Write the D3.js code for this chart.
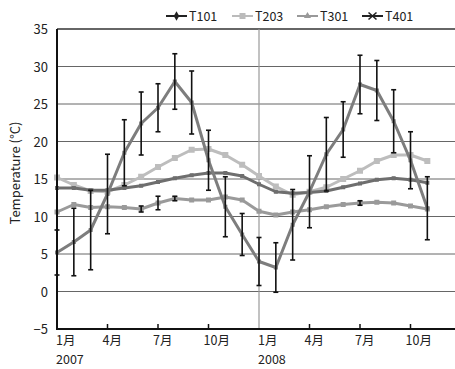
<!DOCTYPE html>
<html>
<head>
<meta charset="utf-8">
<script src="https://cdn.jsdelivr.net/npm/d3@7"></script>
<style>
  body { margin: 0; background: #fff; }
  svg { font-family: "Noto Sans CJK JP", "Noto Sans", sans-serif; }
</style>
</head>
<body>
<svg id="chart" width="455" height="369"></svg>
<script>
// month index 0 = Jan 2007 ... 22 = Nov 2008
var months = d3.range(23);

var seriesNames = ["T101", "T203", "T301", "T401"];

var t101 = [13.8, 13.8, 13.5, 13.5, 13.8, 14.1, 14.6, 15.1, 15.5, 15.8, 15.8, 15.4,
            14.3, 13.3, 13.1, 13.2, 13.4, 13.9, 14.4, 14.9, 15.1, 14.9, 14.5];
var t203 = [15.2, 14.2, 13.4, 13.3, 14.2, 15.3, 16.6, 17.8, 18.9, 19.0, 18.2, 16.9,
            15.4, 14.0, 12.9, 13.3, 13.9, 15.0, 16.1, 17.4, 18.2, 18.2, 17.4];
var t301 = [10.6, 11.6, 11.2, 11.3, 11.2, 11.0, 11.8, 12.4, 12.2, 12.2, 12.6, 12.2,
            10.7, 10.2, 10.6, 10.9, 11.3, 11.6, 11.8, 11.9, 11.8, 11.4, 11.0];
var t401 = [5.2, 6.6, 8.2, 13.0, 18.5, 22.4, 24.5, 28.0, 25.2, 17.5, 11.3, 7.6,
            4.0, 3.2, 8.9, 13.3, 18.3, 21.6, 27.6, 26.8, 22.7, 17.5, 11.1];

var t301Err = [0, 0, 0, 0, 0, 0.4, 0.9, 0.3, 0, 0, 0, 0,
               0, 0, 0, 0, 0, 0, 0.3, 0, 0, 0, 0];
var t401Err = [3.0, 4.5, 5.3, 5.3, 4.4, 4.2, 3.2, 3.7, 4.2, 4.0, 4.0, 2.8,
               3.2, 3.3, 4.7, 4.8, 4.9, 3.7, 3.9, 4.0, 4.2, 3.8, 4.2];

var yTicks = [-5, 0, 5, 10, 15, 20, 25, 30, 35];
var xTicks = [0, 3, 6, 9, 12, 15, 18, 21];
var xTickLabels = ["1月", "4月", "7月", "10月", "1月", "4月", "7月", "10月"];
var yearLabels = ["2007", "2008"];
var yearTicks = [0, 12];

var svg = d3.select("#chart");

var x = d3.scaleLinear().domain([0, 12]).range([57, 259]);
var y = d3.scaleLinear().domain([-5, 35]).range([329, 29]);

// gridlines
svg.append("g")
  .selectAll("line")
  .data(yTicks.filter(function (d) { return d > -5; }))
  .enter().append("line")
  .attr("x1", 57).attr("x2", 455)
  .attr("y1", function (d) { return y(d); })
  .attr("y2", function (d) { return y(d); })
  .attr("stroke", function (d) { return d == 35 ? "#333" : "#666"; })
  .attr("stroke-width", function (d) { return d == 35 ? 1.5 : 1; });

// year separator
svg.append("line")
  .attr("x1", x(12)).attr("x2", x(12))
  .attr("y1", y(35)).attr("y2", y(-5))
  .attr("stroke", "#999").attr("stroke-width", 1.2);

// y labels
svg.append("g")
  .selectAll("text")
  .data(yTicks)
  .enter().append("text")
  .attr("x", 48)
  .attr("y", function (d) { return y(d) + 5; })
  .attr("text-anchor", "end")
  .attr("font-size", 13)
  .attr("fill", "#222")
  .text(function (d) { return d < 0 ? "\u2212" + Math.abs(d) : d; });

svg.append("text")
  .attr("transform", "translate(20,173) rotate(-90)")
  .attr("text-anchor", "middle")
  .attr("font-size", 13)
  .attr("fill", "#222")
  .text("Temperature (°C)");

// x ticks + labels
svg.append("g")
  .selectAll("line")
  .data(xTicks.filter(function (d) { return d % 12 != 0; }))
  .enter().append("line")
  .attr("x1", function (d) { return x(d); })
  .attr("x2", function (d) { return x(d); })
  .attr("y1", y(-5)).attr("y2", y(-5) - 5)
  .attr("stroke", "#111").attr("stroke-width", 1.5);

svg.append("g")
  .selectAll("text")
  .data(xTicks)
  .enter().append("text")
  .attr("x", function (d) { return d % 12 == 0 ? x(d) - 1 : x(d) - 5; })
  .attr("y", 345)
  .attr("font-size", 12.5)
  .attr("fill", "#222")
  .text(function (d, i) { return xTickLabels[i]; });

svg.append("g")
  .selectAll("text")
  .data(yearTicks)
  .enter().append("text")
  .attr("x", function (d) { return x(d) - 1; })
  .attr("y", 364)
  .attr("font-size", 12.5)
  .attr("fill", "#222")
  .text(function (d, i) { return yearLabels[i]; });

// series lines
var series = [
  { name: "T203", values: t203, color: "#bdbdbd", size: 6 },
  { name: "T301", values: t301, color: "#9a9a9a", size: 5 },
  { name: "T101", values: t101, color: "#6e6e6e", size: 4 },
  { name: "T401", values: t401, color: "#7d7d7d", size: 4 }
];

var line = d3.line()
  .x(function (d, i) { return x(i); })
  .y(function (d) { return y(d); });

series.forEach(function (s) {
  svg.append("path")
    .datum(s.values)
    .attr("d", line)
    .attr("fill", "none")
    .attr("stroke", s.color)
    .attr("stroke-width", 3)
    .attr("stroke-linejoin", "round");

  svg.append("g")
    .selectAll("rect")
    .data(s.values)
    .enter().append("rect")
    .attr("x", function (d, i) { return x(i) - s.size / 2; })
    .attr("y", function (d) { return y(d) - s.size / 2; })
    .attr("width", s.size).attr("height", s.size)
    .attr("fill", s.color);
});

// error bars
function errorBars(values, errs) {
  var g = svg.append("g").attr("stroke", "#111").attr("stroke-width", 1.6);
  months.forEach(function (i) {
    if (!errs[i]) return;
    var lo = y(values[i] - errs[i]), hi = y(values[i] + errs[i]), cx = x(i);
    g.append("line").attr("x1", cx).attr("x2", cx).attr("y1", lo).attr("y2", hi);
    g.append("line").attr("x1", cx - 2.5).attr("x2", cx + 2.5).attr("y1", lo).attr("y2", lo);
    g.append("line").attr("x1", cx - 2.5).attr("x2", cx + 2.5).attr("y1", hi).attr("y2", hi);
  });
}
errorBars(t401, t401Err);
errorBars(t301, t301Err);

// axes
svg.append("line")
  .attr("x1", 57).attr("x2", 57).attr("y1", y(35)).attr("y2", y(-5) + 1)
  .attr("stroke", "#111").attr("stroke-width", 2);
svg.append("line")
  .attr("x1", 56).attr("x2", 455).attr("y1", y(-5)).attr("y2", y(-5))
  .attr("stroke", "#111").attr("stroke-width", 2);

// legend
var legendX = [166, 232, 297, 362];
var legendColor = ["#222", "#bbb", "#999", "#222"];
var leg = svg.append("g");
seriesNames.forEach(function (name, i) {
  var lx = legendX[i], ly = 16, c = legendColor[i], mx = lx + 10.5;
  leg.append("line").attr("x1", lx).attr("x2", lx + 21).attr("y1", ly).attr("y2", ly)
    .attr("stroke", c).attr("stroke-width", 2);
  if (name == "T101") {
    leg.append("path").attr("d", d3.symbol(d3.symbolDiamond, 26)())
      .attr("transform", "translate(" + mx + "," + ly + ")").attr("fill", c);
  } else if (name == "T203") {
    leg.append("rect").attr("x", mx - 3).attr("y", ly - 3).attr("width", 6).attr("height", 6).attr("fill", c);
  } else if (name == "T301") {
    leg.append("path").attr("d", d3.symbol(d3.symbolTriangle, 22)())
      .attr("transform", "translate(" + mx + "," + ly + ")").attr("fill", c);
  } else {
    leg.append("path").attr("d", "M-4,-3.5L4,3.5M-4,3.5L4,-3.5")
      .attr("transform", "translate(" + mx + "," + ly + ")")
      .attr("stroke", c).attr("stroke-width", 1.6);
  }
  leg.append("text").attr("x", lx + 23).attr("y", ly + 5)
    .attr("font-size", 12.5).attr("fill", "#222").text(name);
});
</script>
</body>
</html>
